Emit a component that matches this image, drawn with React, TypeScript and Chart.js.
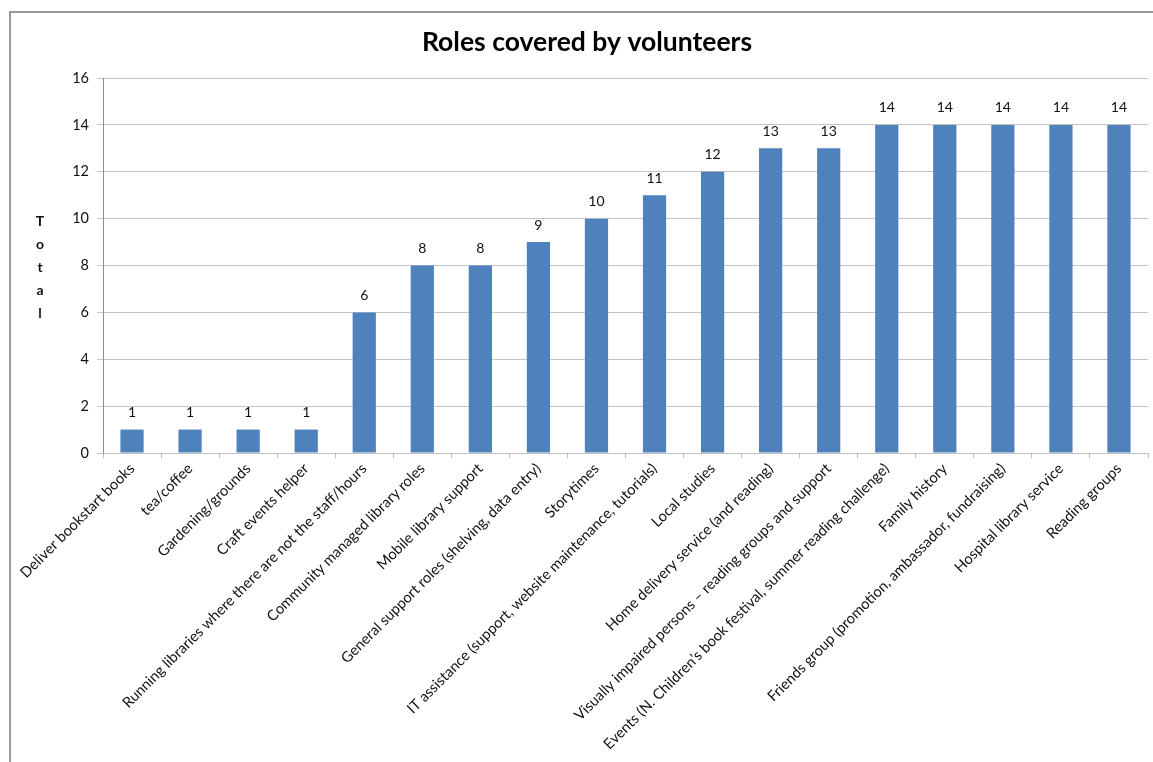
import React, { useEffect, useRef } from 'react';
import { Chart, registerables } from 'chart.js';

Chart.register(...registerables);

const chartTitle = 'Roles covered by volunteers';
const yAxisTitle = 'Total';

const categories = [
  'Deliver bookstart books',
  'tea/coffee',
  'Gardening/grounds',
  'Craft events helper',
  'Running libraries where there are not the staff/hours',
  'Community managed library roles',
  'Mobile library support',
  'General support roles (shelving, data entry)',
  'Storytimes',
  'IT assistance (support, website maintenance, tutorials)',
  'Local studies',
  'Home delivery service (and reading)',
  'Visually impaired persons \u2013 reading groups and support',
  'Events (N. Children\u2019s book festival, summer reading challenge)',
  'Family history',
  'Friends group (promotion, ambassador, fundraising)',
  'Hospital library service',
  'Reading groups',
];

const totals = [1, 1, 1, 1, 6, 8, 8, 9, 10, 11, 12, 13, 13, 14, 14, 14, 14, 14];

const yMin = 0;
const yMax = 16;
const yStep = 2;

const FONT = 'Lato, "Open Sans", sans-serif';

const valueLabelPlugin = {
  id: 'valueLabels',
  afterDatasetsDraw(chart: any) {
    const { ctx } = chart;
    const meta = chart.getDatasetMeta(0);
    ctx.save();
    ctx.font = `14px ${FONT}`;
    ctx.fillStyle = '#111';
    ctx.textAlign = 'center';
    ctx.textBaseline = 'middle';
    meta.data.forEach((bar: any, i: number) => {
      ctx.fillText(String(totals[i]), bar.x, bar.y - 17);
    });
    ctx.restore();
  },
};

const verticalTitlePlugin = {
  id: 'verticalTitle',
  afterDraw(chart: any) {
    const { ctx, chartArea } = chart;
    const letters = yAxisTitle.split('');
    const mid = (chartArea.top + chartArea.bottom) / 2 + 2;
    const gap = 23;
    ctx.save();
    ctx.font = `bold 14px ${FONT}`;
    ctx.fillStyle = '#111';
    ctx.textAlign = 'center';
    ctx.textBaseline = 'middle';
    letters.forEach((ch, i) => {
      ctx.fillText(ch, 40, mid + (i - (letters.length - 1) / 2) * gap);
    });
    ctx.restore();
  },
};

export default function App() {
  const canvasRef = useRef<HTMLCanvasElement | null>(null);

  useEffect(() => {
    const canvas = canvasRef.current;
    if (!canvas) return;
    const chart = new Chart(canvas, {
      type: 'bar',
      data: {
        labels: categories,
        datasets: [
          {
            label: yAxisTitle,
            data: totals,
            backgroundColor: '#4F81BD',
            borderColor: '#4F81BD',
            borderWidth: 0,
            barPercentage: 0.8,
            categoryPercentage: 0.5,
          },
        ],
      },
      options: {
        responsive: false,
        animation: false,
        devicePixelRatio: 1,
        layout: { padding: { left: 26, right: 5, top: 0, bottom: 0 } },
        plugins: {
          legend: { display: false },
          tooltip: { enabled: false },
          title: {
            display: true,
            text: chartTitle,
            color: '#000',
            font: { family: FONT, size: 26.5, weight: 'bold', lineHeight: 1.2 },
            padding: { top: 27, bottom: 19.2 },
          },
        },
        scales: {
          x: {
            afterFit(scale: any) {
              scale.height = 309;
            },
            grid: {
              drawOnChartArea: false,
              drawTicks: true,
              tickLength: 5,
              color: '#bfbfbf',
              offset: true,
            },
            border: { color: '#bfbfbf', width: 1 },
            ticks: {
              autoSkip: false,
              minRotation: 45,
              maxRotation: 45,
              padding: 2,
              color: '#111',
              font: { family: FONT, size: 14.7 },
            },
          },
          y: {
            min: yMin,
            max: yMax,
            afterFit(scale: any) {
              scale.width = 77;
            },
            grid: {
              color: '#c4c4c4',
              tickLength: 6,
            },
            border: { color: '#8c8c8c', width: 1 },
            ticks: {
              stepSize: yStep,
              padding: 8,
              color: '#111',
              font: { family: FONT, size: 14.5 },
            },
          },
        },
      },
      plugins: [valueLabelPlugin, verticalTitlePlugin],
    });
    return () => chart.destroy();
  }, []);

  return (
    <div style={{ position: 'fixed', left: 0, top: 0, width: 1153, height: 762, background: '#fff', overflow: 'hidden' }}>
      <div
        style={{
          position: 'absolute',
          left: 9,
          top: 11,
          width: 1144,
          height: 751,
          borderLeft: '2px solid #999',
          borderTop: '2px solid #999',
          boxSizing: 'border-box',
        }}
      />
      <canvas ref={canvasRef} width={1153} height={762} style={{ position: 'absolute', left: 0, top: 0 }} />
    </div>
  );
}
